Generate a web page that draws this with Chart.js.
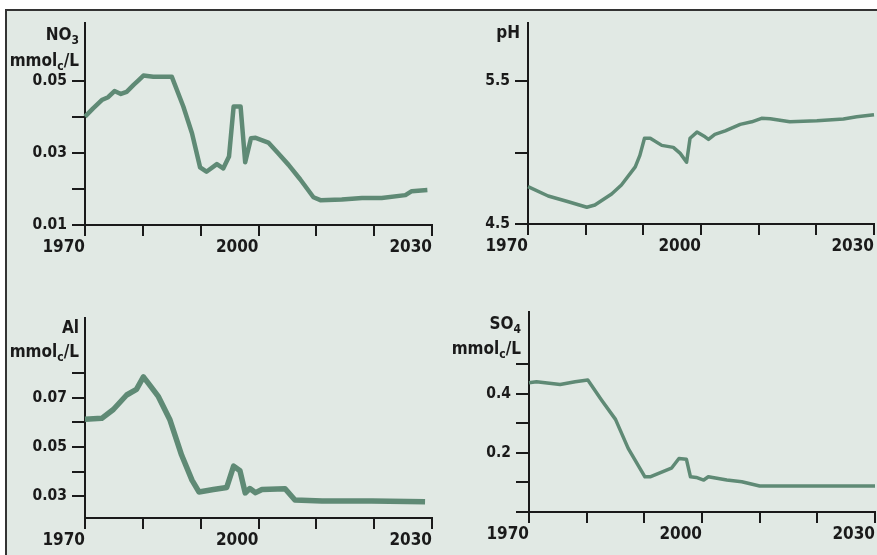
<!DOCTYPE html>
<html>
<head>
<meta charset="utf-8">
<script src="https://cdn.jsdelivr.net/npm/chart.js@4.4.1/dist/chart.umd.min.js"></script>
<style>
  html, body { margin: 0; padding: 0; background: #ffffff; }
  #stage { position: relative; width: 877px; height: 555px; overflow: hidden; }
  #frame {
    position: absolute; left: 5px; top: 9px; width: 890px; height: 560px;
    background: #e1e9e4; border-left: 2px solid #333; border-top: 2px solid #333;
  }
  canvas { position: absolute; }
</style>
</head>
<body>
<div id="stage">
  <div id="frame"></div>
  <canvas id="no3Chart" width="440" height="270" style="left:0;top:0"></canvas>
  <canvas id="phChart" width="437" height="270" style="left:440px;top:0"></canvas>
  <canvas id="alChart" width="440" height="275" style="left:0;top:280px"></canvas>
  <canvas id="so4Chart" width="437" height="275" style="left:440px;top:280px"></canvas>
</div>
<script>
// x axis (shared by all four panels)
const yearTicks = [1970, 1980, 1990, 2000, 2010, 2020, 2030];
const yearLabels = [1970, 2000, 2030];

// NO3, mmolc/L
const no3Years = [1970, 1971.4, 1972.9, 1974, 1975.1, 1976.2, 1977.2, 1978.4, 1979.2, 1980.1, 1981.8, 1985, 1987, 1988.5,
  1989.9, 1991, 1992.8, 1993.9, 1994.9, 1995.7, 1996.9, 1997.7, 1998.7, 1999.5, 2001.7, 2003.4, 2005.2, 2007.2, 2009.5,
  2010.7, 2014.4, 2017.9, 2021.3, 2025.4, 2026.5, 2029.2];
const no3Values = [0.0401, 0.0424, 0.0447, 0.0455, 0.0472, 0.0464, 0.047, 0.0489, 0.0501, 0.0515, 0.0512, 0.0512, 0.0429,
  0.0355, 0.026, 0.0248, 0.0269, 0.0257, 0.029, 0.0429, 0.0429, 0.0274, 0.0341, 0.0342, 0.0329, 0.0299, 0.0267, 0.0227,
  0.0177, 0.0169, 0.0171, 0.0175, 0.0175, 0.0183, 0.0194, 0.0197];
const no3Ticks = [0.01, 0.02, 0.03, 0.04, 0.05];
const no3Labels = [0.01, 0.03, 0.05];

// pH
const phYears = [1970, 1973.5, 1977, 1980.2, 1981.6, 1984.5, 1986.2, 1988.6, 1989.4, 1990.2, 1991.2, 1993.2, 1995.2,
  1996.4, 1997.5, 1998.1, 1999.3, 2000.7, 2001.3, 2002.4, 2004.2, 2006.8, 2008.8, 2010.5, 2012, 2015.4, 2020.1, 2024.7,
  2027, 2030];
const phValues = [4.761, 4.696, 4.656, 4.617, 4.633, 4.71, 4.773, 4.9, 4.98, 5.1, 5.1, 5.05, 5.036, 4.994, 4.932, 5.1,
  5.143, 5.11, 5.092, 5.127, 5.152, 5.197, 5.215, 5.239, 5.236, 5.215, 5.222, 5.234, 5.25, 5.264];
const phTicks = [4.5, 5.0, 5.5];
const phLabels = [4.5, 5.5];

// Al, mmolc/L
const alYears = [1970, 1972.9, 1974.9, 1977.2, 1978.9, 1980.1, 1981.2, 1982.7, 1984.7, 1986.7, 1988.5, 1989.7, 1992.2,
  1994.5, 1995.7, 1996.8, 1997.7, 1998.5, 1999.5, 2000.6, 2004.6, 2006.3, 2011, 2019.6, 2028.8];
const alValues = [0.0612, 0.0616, 0.0652, 0.0711, 0.0734, 0.0785, 0.0751, 0.0704, 0.0609, 0.0467, 0.0365, 0.0317, 0.0327,
  0.0335, 0.0422, 0.0403, 0.0313, 0.0331, 0.0314, 0.0327, 0.033, 0.0284, 0.028, 0.028, 0.0277];
const alTicks = [0.03, 0.04, 0.05, 0.06, 0.07, 0.08];
const alLabels = [0.03, 0.05, 0.07];

// SO4, mmolc/L
const so4Years = [1970, 1971.3, 1975.4, 1978, 1980.2, 1982.6, 1985, 1987.2, 1990.1, 1991, 1994.7, 1996, 1997.3, 1998,
  1999, 2000.3, 2001.1, 2004.3, 2006.9, 2010, 2030];
const so4Values = [0.437, 0.44, 0.431, 0.44, 0.446, 0.378, 0.313, 0.215, 0.119, 0.119, 0.148, 0.181, 0.178, 0.119, 0.117,
  0.108, 0.119, 0.108, 0.102, 0.088, 0.088];
const so4Ticks = [0, 0.1, 0.2, 0.3, 0.4, 0.5];
const so4Labels = [0.2, 0.4];

const FONT = "'Liberation Sans Narrow', 'DejaVu Sans Condensed', 'Roboto Condensed', sans-serif";
const LINE_COLOR = '#5f8a75';
const AXIS_COLOR = '#1a1a1a';

/**
 * Axis title with subscripts, drawn right-aligned next to the y axis
 */
const axisTitlePlugin = {
    id: 'axisTitle',
    afterDraw(chart, args, opts) {
        const ctx = chart.ctx;
        const right = chart.chartArea.left - opts.gap;
        ctx.save();
        ctx.fillStyle = AXIS_COLOR;
        ctx.textBaseline = 'alphabetic';
        opts.lines.forEach((line, i) => {
            const y = opts.top + i * opts.lineHeight;
            const parts = line.map(([text, sub]) => {
                const font = `bold ${sub ? opts.subSize : opts.size}px ${FONT}`;
                ctx.font = font;
                return { text, sub, font, w: ctx.measureText(text).width };
            });
            let x = right - parts.reduce((a, p) => a + p.w, 0);
            parts.forEach(p => {
                ctx.font = p.font;
                ctx.textAlign = 'left';
                ctx.fillText(p.text, x, p.sub ? y + 4 : y);
                x += p.w;
            });
        });
        ctx.restore();
    }
};

function makePanel(id, years, values, opts) {
    const ctx = document.getElementById(id);
    return new Chart(ctx, {
        type: 'line',
        data: {
            datasets: [{
                data: years.map((yr, i) => ({ x: yr, y: values[i] })),
                borderColor: LINE_COLOR,
                borderWidth: opts.lineWidth,
                pointRadius: 0,
                tension: 0,
                fill: false,
                borderJoinStyle: 'round',
                clip: false,
            }]
        },
        options: {
            responsive: false,
            animation: false,
            events: [],
            layout: { padding: { top: opts.area.top, right: opts.area.right, left: 0, bottom: 0 } },
            plugins: {
                legend: { display: false },
                tooltip: { enabled: false },
                axisTitle: opts.title,
            },
            scales: {
                x: {
                    type: 'linear',
                    min: 1970,
                    max: 2030,
                    afterBuildTicks: scale => { scale.ticks = yearTicks.map(v => ({ value: v })); },
                    afterFit: scale => { scale.height = opts.area.xHeight; },
                    border: { color: AXIS_COLOR, width: 2 },
                    grid: { drawOnChartArea: false, tickLength: 11, color: AXIS_COLOR, lineWidth: 2 },
                    ticks: {
                        autoSkip: false,
                        maxRotation: 0,
                        align: 'end',
                        padding: 1,
                        color: AXIS_COLOR,
                        font: { family: FONT, size: 17, weight: 'bold' },
                        callback: v => yearLabels.includes(v) ? String(v) : '',
                    }
                },
                y: {
                    type: 'linear',
                    min: opts.min,
                    max: opts.max,
                    afterBuildTicks: scale => { scale.ticks = opts.ticks.map(v => ({ value: v })); },
                    afterFit: scale => { scale.width = opts.area.left; },
                    border: { color: AXIS_COLOR, width: 2 },
                    grid: { drawOnChartArea: false, tickLength: 13, color: AXIS_COLOR, lineWidth: 2 },
                    ticks: {
                        autoSkip: false,
                        padding: 5,
                        color: AXIS_COLOR,
                        font: { family: FONT, size: 15.5, weight: 'bold' },
                        callback: v => opts.labels.includes(v) ? v.toFixed(opts.digits) : '',
                    }
                }
            }
        },
        plugins: [axisTitlePlugin]
    });
}

const conc = [['mmol', false], ['c', true], ['/L', false]];

makePanel('no3Chart', no3Years, no3Values, {
    min: 0.01, max: 0.0661, ticks: no3Ticks, labels: no3Labels, digits: 2, lineWidth: 4.5,
    area: { left: 85, top: 23, right: 8, xHeight: 45 },
    title: { lines: [[['NO', false], ['3', true]], conc], top: 40, lineHeight: 26, gap: 6, size: 17, subSize: 12 },
});
makePanel('phChart', phYears, phValues, {
    min: 4.5, max: 5.906, ticks: phTicks, labels: phLabels, digits: 1, lineWidth: 3.5,
    area: { left: 88, top: 23, right: 3, xHeight: 46 },
    title: { lines: [[['pH', false]]], top: 38, lineHeight: 26, gap: 8, size: 17, subSize: 12 },
});
makePanel('alChart', alYears, alValues, {
    min: 0.0211, max: 0.1024, ticks: alTicks, labels: alLabels, digits: 2, lineWidth: 5.5,
    area: { left: 85, top: 38, right: 8, xHeight: 37 },
    title: { lines: [[['Al', false]], conc], top: 53, lineHeight: 24, gap: 6, size: 17, subSize: 12 },
});
makePanel('so4Chart', so4Years, so4Values, {
    min: 0, max: 0.676, ticks: so4Ticks, labels: so4Labels, digits: 1, lineWidth: 3.5,
    area: { left: 89, top: 32, right: 2, xHeight: 43 },
    title: { lines: [[['SO', false], ['4', true]], conc], top: 49, lineHeight: 25, gap: 8, size: 17, subSize: 12 },
});
</script>
</body>
</html>
